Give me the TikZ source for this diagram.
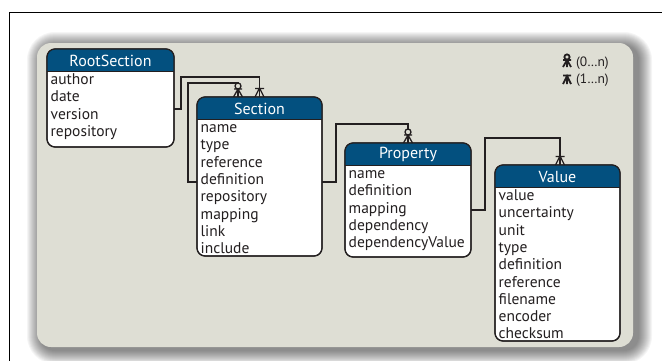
\documentclass[tikz,border=0pt]{standalone}
\usepackage{fontspec}
\setmainfont{PT Sans}
\usetikzlibrary{calc}
\definecolor{hdr}{RGB}{3,80,127}
\definecolor{panel}{RGB}{222,222,212}
\definecolor{ink}{RGB}{35,31,32}
\tikzset{
  ebox/.style={draw=ink, line width=1.2pt, rounded corners=8pt, fill=white, inner sep=0pt, outer sep=0pt},
  etitle/.style={text=white, font=\fontsize{16}{18}\selectfont, inner sep=0pt},
  efield/.style={text=ink, font=\fontsize{15.5}{17}\selectfont, inner sep=0pt, anchor=base west},
  conn/.style={draw=ink, line width=1.3pt},
  sym/.style={draw=ink, line width=1.3pt},
  legsym/.style={draw=ink, line width=1.8pt},
  legtext/.style={text=ink, font=\fontsize{13.5}{15}\selectfont, inner sep=0pt, anchor=base west},
  one many/.pic={\draw[sym] (-4.5,0) -- (0,-9) -- (4.5,0) (-4.5,-8.5) -- (4.5,-8.5);},
  zero many/.pic={\draw[sym] (-4.5,0) -- (0,-8) -- (4.5,0) (-4,-8) -- (4,-8);
                  \draw[sym, fill=panel] (0,-11) circle[radius=3];},
  leg one many/.pic={\draw[legsym] (-4,0) -- (0,-8) -- (4,0) (0,0) -- (0,-8) (-4,-8.5) -- (4,-8.5);},
  leg zero many/.pic={\draw[legsym] (-4,0) -- (0,-7) -- (4,0) (0,0) -- (0,-7) (-4,-7) -- (4,-7);
                  \draw[legsym, fill=panel] (0,-10) circle[radius=2.6];}
}
\newcommand\entitybox[7]{%
  \node[ebox, minimum width={#4-#2}, minimum height={#5-#3}] (#1) at ({(#2+#4)/2},{(#3+#5)/2}) {};
  \begin{scope}
    \clip[rounded corners=8pt] (#1.north west) rectangle (#1.south east);
    \fill[hdr] (#1.north west) rectangle ([yshift=-22.5pt]#1.north east);
  \end{scope}
  \draw[ink, line width=1.5pt] ([yshift=-22.5pt]#1.north west) -- ([yshift=-22.5pt]#1.north east);
  \draw[ink, line width=1.2pt, rounded corners=8pt] (#1.north west) rectangle (#1.south east);
  \node[etitle] (#1-title) at ([yshift=-11.5pt]#1.north) {#6};
  \foreach \f [count=\i] in {#7} {
    \node[efield] (#1-f\i) at ($(#1.north west)+(3.5,{22.5+13+(\i-1)*17.3})$) {\f};
  }
}
\begin{document}
\begin{tikzpicture}[x=1pt,y=-1pt]
\clip (0,0) rectangle (662,360);
\fill[white] (0,0) rectangle (662,360);
% outer frame
\draw[black, line width=1pt] (9,362) -- (9,12.5) -- (664,12.5);
% panel shadow
\foreach \i in {1,...,14} {
  \pgfmathsetmacro\rr{14+\i}
  \fill[black, opacity=0.04, rounded corners=\rr pt] ({41-\i},{46-\i}) rectangle ({638+\i},{350+\i});
}
\fill[panel, rounded corners=14pt] (37,43) rectangle (633,347);
% entities
\entitybox{root}{47}{49}{174}{147}{RootSection}{author,date,version,repository}
\entitybox{section}{197}{97}{322}{256}{Section}{name,type,reference,definition,repository,mapping,link,include}
\entitybox{property}{345}{143}{471}{257}{Property}{name,definition,mapping,dependency,dependencyValue}
\entitybox{value}{495}{165}{620}{341}{Value}{value,uncertainty,unit,type,definition,reference,filename,encoder,checksum}
% connectors
\draw[conn] ([yshift=-11pt]root.east) -- ++(7,0) |- ($(section.north)+(0,-20)$) -- (section.north);
\draw[conn] ([yshift=-5.5pt]section.west) -- ++(-9,0) |- ($(section.north)+(-21.5,-14)$) -- ($(section.north)+(-21.5,0)$);
\draw[conn] ([yshift=-5.5pt]section.east) -- ++(14,0) |- ($(property.north)+(0,-19)$) -- (property.north);
\draw[conn] ([yshift=-10pt]property.east) -- ++(14,0) |- ($(value.north)+(2.5,-27)$) -- ($(value.north)+(2.5,0)$);
% cardinality marks
\pic at (section.north) {one many};
\pic at ($(section.north)+(-21.5,0)$) {zero many};
\pic at (property.north) {zero many};
\pic at ($(value.north)+(2.5,0)$) {one many};
% legend
\pic at (567,67) {leg zero many};
\node[legtext] (leg0) at (576,66.5) {(0…n)};
\pic at (567,84) {leg one many};
\node[legtext] (leg1) at (576,83.5) {(1…n)};
\end{tikzpicture}
\end{document}
